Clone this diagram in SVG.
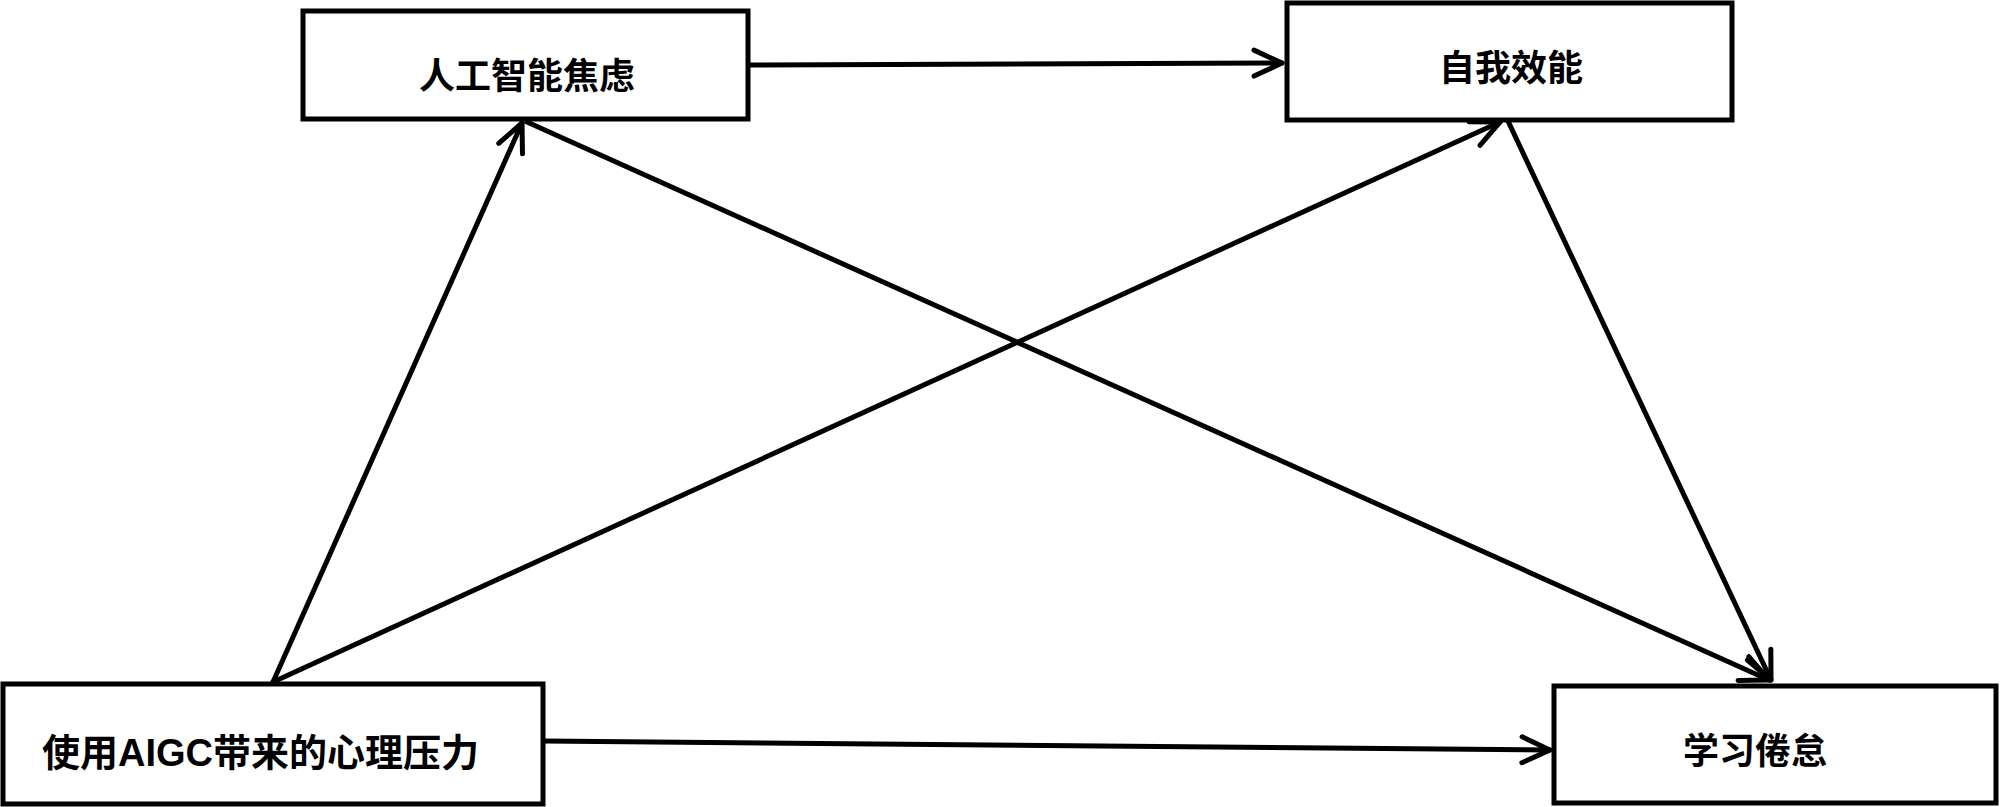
<svg xmlns="http://www.w3.org/2000/svg" width="2000" height="807" viewBox="0 0 2000 807">
<style>
.box{fill:#fff;stroke:#000;stroke-width:5}
.lbl{font-family:"Liberation Sans","Noto Sans CJK SC",sans-serif;font-size:36px;font-weight:bold;fill:#000}
.edge{fill:none;stroke:#000;stroke-width:5;stroke-linecap:round}
</style>
<defs>
<marker id="ah" markerUnits="userSpaceOnUse" viewBox="-34 -18 38 36" markerWidth="38" markerHeight="36" refX="0" refY="0" orient="auto">
<path d="M-28,-13 L0,0 L-28,13" fill="none" stroke="#000" stroke-width="5" stroke-linecap="round" stroke-linejoin="round"/>
</marker>
</defs>
<rect width="2000" height="807" fill="#fff"/>
<g id="connectors">
<line class="edge" x1="749" y1="65" x2="1282" y2="63" marker-end="url(#ah)"/>
<line class="edge" x1="273" y1="682" x2="522" y2="123" marker-end="url(#ah)"/>
<line class="edge" x1="273" y1="682" x2="1500" y2="122" marker-end="url(#ah)"/>
<line class="edge" x1="527" y1="122" x2="1769" y2="680" marker-end="url(#ah)"/>
<line class="edge" x1="1508" y1="121" x2="1771" y2="680" marker-end="url(#ah)"/>
<line class="edge" x1="543" y1="741" x2="1550" y2="750" marker-end="url(#ah)"/>
</g>
<g id="node-ai-anxiety">
<rect class="box" x="303" y="11" width="445" height="108"/>
<text class="lbl" x="527" y="89" text-anchor="middle">人工智能焦虑</text>
</g>
<g id="node-self-efficacy">
<rect class="box" x="1287" y="3" width="445" height="117"/>
<text class="lbl" x="1511" y="81" text-anchor="middle">自我效能</text>
</g>
<g id="node-aigc-stress">
<rect class="box" x="3" y="684" width="540" height="120"/>
<text class="lbl" x="42" y="766" style="font-size:38px">使用AIGC带来的心理压力</text>
</g>
<g id="node-learning-burnout">
<rect class="box" x="1554" y="686" width="442" height="117"/>
<text class="lbl" x="1755" y="764" text-anchor="middle">学习倦怠</text>
</g>
</svg>
